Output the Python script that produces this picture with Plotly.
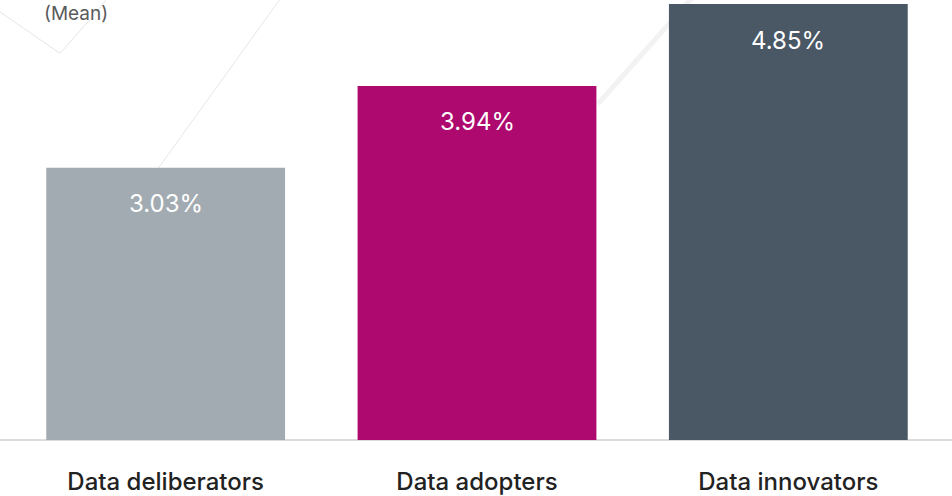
import plotly.graph_objects as go

categories = ["Data deliberators", "Data adopters", "Data innovators"]
values = [3.03, 3.94, 4.85]
value_labels = ["3.03%", "3.94%", "4.85%"]
colors = ["#A2ABB1", "#AD096E", "#4A5866"]

W, H = 952, 496
ML, MR, MT, MB = 10, 8, 0, 51
PW, PH = W - ML - MR, H - MT - MB
FONT = "Inter, Roboto, sans-serif"


def px(x, y):
    return (x - ML) / PW, 1 - (y - MT) / PH


fig = go.Figure()
fig.add_trace(go.Bar(
    x=categories, y=values, marker=dict(color=colors, line=dict(width=0)),
    hoverinfo="skip", showlegend=False,
))

for c, v, t in zip(categories, values, value_labels):
    fig.add_annotation(x=c, y=v, text=t, showarrow=False, yanchor="middle",
                       yshift=-36, font=dict(family=FONT, size=24, color="white"))

# decorative faint background lines
deco = [
    [(0, 12), (60, 54), (95, 14), (110, -5)],
    [(283, -5), (157, 172)],
]
shapes = []
for pts in deco:
    for (x0, y0), (x1, y1) in zip(pts[:-1], pts[1:]):
        a0, b0 = px(x0, y0)
        a1, b1 = px(x1, y1)
        shapes.append(dict(type="line", xref="paper", yref="paper", x0=a0, y0=b0, x1=a1, y1=b1,
                           line=dict(color="#E6E6E6", width=1), layer="below"))
a0, b0 = px(598, 105)
a1, b1 = px(692, -2)
shapes.append(dict(type="line", xref="paper", yref="paper", x0=a0, y0=b0, x1=a1, y1=b1,
                   line=dict(color="#F2F2F2", width=5), layer="below"))
# baseline
a0, b0 = px(0, 445)
a1, b1 = px(952, 445)
shapes.append(dict(type="line", xref="paper", yref="paper", x0=a0, y0=b0, x1=a1, y1=b1,
                   line=dict(color="#DCDCDC", width=2), layer="below"))

fig.add_annotation(xref="paper", yref="paper", x=px(42, 0)[0], y=1, text="(Mean)",
                   showarrow=False, xanchor="left", yanchor="top",
                   font=dict(family=FONT, size=19, color="#5A5A5A"))

fig.update_layout(
    width=W, height=H, margin=dict(l=ML, r=MR, t=MT, b=MB),
    paper_bgcolor="white", plot_bgcolor="rgba(0,0,0,0)",
    bargap=0.233, shapes=shapes,
    xaxis=dict(showgrid=False, zeroline=False, showline=False, ticks="",
               tickfont=dict(family=FONT, size=24, color="#222222", weight=500),
               ticklabelstandoff=25),
    yaxis=dict(range=[0, 445 / 90.9], visible=False),
)

fig.write_html("out.html", config={"displayModeBar": False},
               post_script="document.body.style.margin='0';document.body.style.overflow='hidden';")
